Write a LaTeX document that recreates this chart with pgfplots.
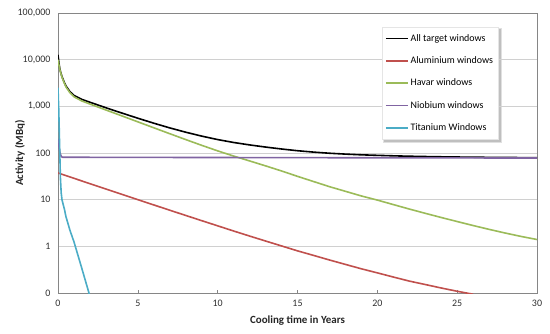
\documentclass[border=0pt]{standalone}
\usepackage{pgfplots}
\pgfplotsset{compat=1.18}
\usepackage{fontspec}
\setmainfont{Carlito}
\usetikzlibrary{backgrounds}
\definecolor{cAll}{HTML}{000000}
\definecolor{cAl}{HTML}{C0504D}
\definecolor{cHav}{HTML}{9BBB59}
\definecolor{cNb}{HTML}{8064A2}
\definecolor{cTi}{HTML}{4BACC6}
\definecolor{gridc}{HTML}{D0D0D0}
\definecolor{axc}{HTML}{868686}
\definecolor{txt}{HTML}{303030}
\begin{document}
\begin{tikzpicture}
\begin{axis}[
  scale only axis,
  width=479bp, height=280bp,
  ymode=log,
  xmin=0, xmax=30, ymin=0.1, ymax=100000,
  xtick={0,5,10,15,20,25,30},
  xticklabels={0,5,10,15,20,25,30},
  ytick={0.1,1,10,100,1000,10000,100000},
  yticklabels={0,1,10,100,{1,000},{10,000},{100,000}},
  minor ytick={},
  log ticks with fixed point,
  ymajorgrids,
  major grid style={gridc, line width=0.8bp},
  axis line style={axc, line width=0.8bp},
  x tick style={axc, line width=0.6bp},
  xtick pos=bottom,
  tick align=inside,
  major tick length=3bp,
  y tick style={draw=none},
  ytick pos=left,
  ticklabel style={font=\fontsize{10}{12}\selectfont, text=txt},
  xticklabel style={yshift=-4bp},
  yticklabel style={xshift=-4bp},
  xlabel={\bfseries Cooling time in Years},
  ylabel={\bfseries Activity (MBq)},
  label style={font=\fontsize{11}{13}\selectfont\bfseries, text=black!85},
  xlabel style={yshift=-2bp},
  ylabel style={yshift=-14bp},
  every axis plot/.append style={line width=1.6bp, line join=round, no markers},
  legend style={name=mylegend, at={(0.676,0.95)}, anchor=north west, draw=gray!20, fill=white,
    font=\fontsize{10}{12}\selectfont, row sep=10bp,
    inner xsep=3bp, inner ysep=5bp},
  legend cell align=left,
  legend image code/.code={\draw[#1, line cap=butt] (0bp,0bp) -- (22bp,0bp);},
]
% All target windows
\addplot[cAll] coordinates {
(0,12700)(0.05,9000)(0.1,6800)(0.15,5660)(0.2,4935)(0.25,4330)(0.3,3925)(0.4,3220)
(0.5,2720)(0.75,2064)(1,1711)(1.5,1406)(2,1223)(3,933)(4,718)(5,556)(6,435)(7,345)
(8,279)(9,230)(10,194)(11,168)(12,149)(13,134)(14,121.8)(15,111.9)(16,104.5)(17,98.8)
(18,94.7)(19,91.4)(20,89.1)(21,87.0)(22,85.3)(23,84.0)(24,82.9)(25,82.0)(26,81.3)
(27,80.7)(28,80.2)(29,79.8)(30,79.5)};
\addlegendentry{All target windows}
% Aluminium
\addplot[cAl] coordinates {
(0,37.4)(1,28.7)(2,22.0)(3,16.9)(4,13.0)(5,10.0)(6,7.71)(7,5.94)(8,4.59)(9,3.55)
(10,2.75)(11,2.13)(12,1.66)(13,1.30)(14,1.02)(15,0.80)(16,0.64)(17,0.51)(18,0.41)
(19,0.33)(20,0.27)(21,0.22)(22,0.18)(23,0.152)(24,0.128)(25,0.109)(26,0.094)};
\addlegendentry{Aluminium windows}
% Havar
\addplot[cHav] coordinates {
(0,10000)(0.05,8000)(0.1,6500)(0.15,5500)(0.2,4800)(0.25,4200)(0.3,3800)(0.4,3100)
(0.5,2600)(0.75,1950)(1,1600)(1.5,1300)(2,1120)(3,835)(4,624)(5,465)(6,347)(7,259)
(8,194)(9,146)(10,111)(11,86)(12,67.6)(13,53)(14,41.2)(15,31.6)(16,24.5)(17,19)
(18,15.1)(19,12.0)(20,9.8)(21,7.85)(22,6.3)(23,5.1)(24,4.15)(25,3.4)(26,2.79)
(27,2.31)(28,1.93)(29,1.63)(30,1.40)};
\addlegendentry{Havar windows}
% Niobium
\addplot[cNb] coordinates {
(0,200)(0.05,150)(0.1,110)(0.15,95)(0.2,85)(0.25,82)(0.3,81)(1,81)(5,80.5)(10,80)
(15,79.5)(20,79)(25,78.5)(30,78)};
\addlegendentry{Niobium windows}
% Titanium
\addplot[cTi] coordinates {
(0,2500)(0.05,800)(0.1,150)(0.15,30)(0.2,14)(0.25,10)(0.3,8.5)(0.4,6.3)(0.5,4.3)
(0.75,2.2)(1,1.25)(1.5,0.33)(2,0.085)};
\addlegendentry{Titanium Windows}
\end{axis}
\begin{scope}[on background layer]
\fill[black, opacity=0.12] ([xshift=1bp,yshift=-4bp]mylegend.south west) rectangle ([xshift=4bp,yshift=-1bp]mylegend.north east);
\fill[black, opacity=0.15] ([xshift=2bp,yshift=-3bp]mylegend.south west) rectangle ([xshift=3bp,yshift=-2bp]mylegend.north east);
\end{scope}
\pgfresetboundingbox
\path ([xshift=-58bp,yshift=-41bp]current axis.south west) rectangle ([xshift=13bp,yshift=13bp]current axis.north east);
\end{tikzpicture}
\end{document}
